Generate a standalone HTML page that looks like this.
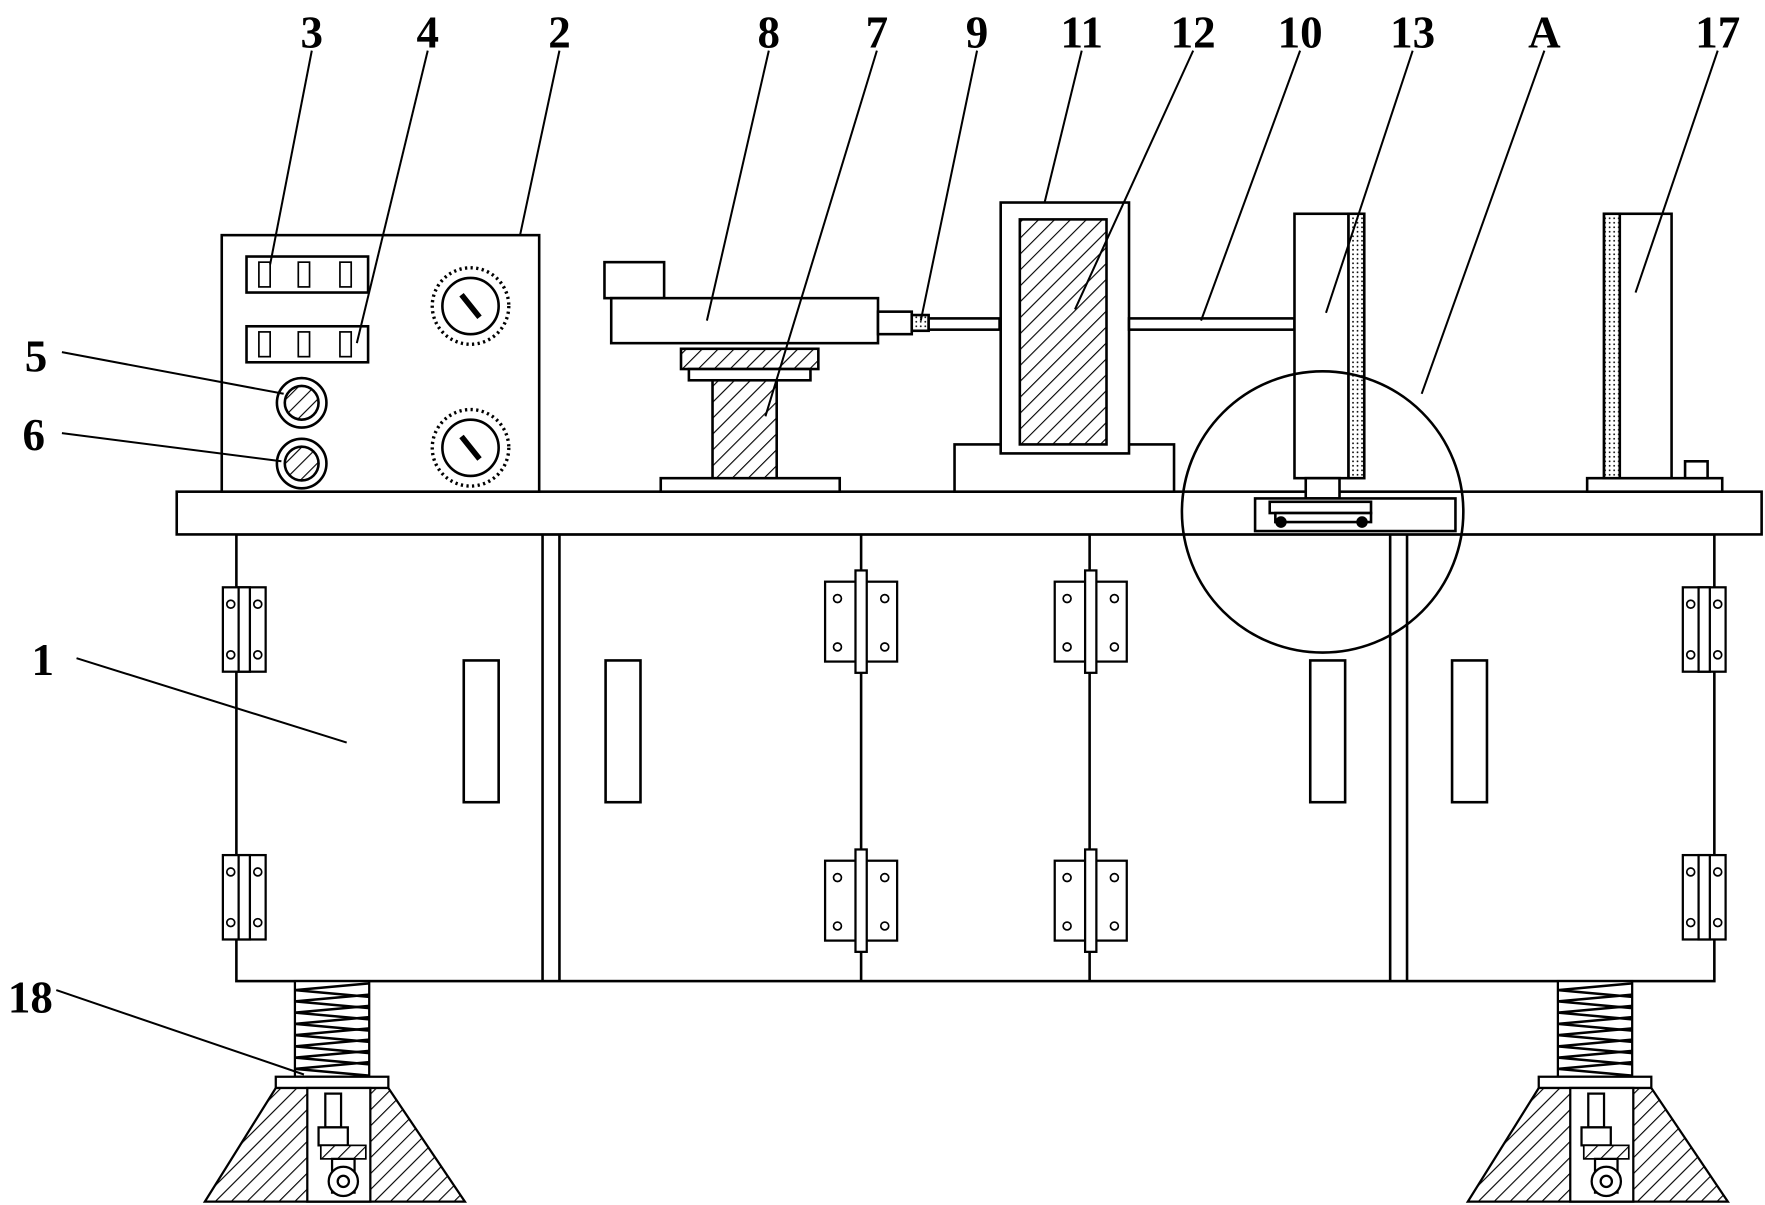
<!DOCTYPE html>
<html><head><meta charset="utf-8"><style>
html,body{margin:0;padding:0;background:#fff;}
svg{display:block;}
text{font-family:"Liberation Serif",serif;font-size:40px;fill:#000;font-weight:bold;}
</style></head><body>
<svg width="1765" height="1205" viewBox="0 0 1568 1071" preserveAspectRatio="none" xmlns="http://www.w3.org/2000/svg">
<defs>
<pattern id="h" width="10" height="10" patternUnits="userSpaceOnUse" patternTransform="rotate(45)">
<rect width="10" height="10" fill="#fff"/><line x1="0" y1="0" x2="0" y2="10" stroke="#000" stroke-width="2"/></pattern>
<pattern id="d" width="4" height="4" patternUnits="userSpaceOnUse"><rect width="4" height="4" fill="#fff"/><circle cx="2" cy="2" r="0.8" fill="#000"/></pattern>
<g id="hingeV">
<rect x="0" y="0" width="38" height="75" fill="#fff" stroke="#000" stroke-width="2"/>
<rect x="14" y="0" width="10" height="75" fill="#fff" stroke="#000" stroke-width="2"/>
<circle cx="7" cy="15" r="3.5" fill="none" stroke="#000" stroke-width="1.5"/>
<circle cx="7" cy="60" r="3.5" fill="none" stroke="#000" stroke-width="1.5"/>
<circle cx="31" cy="15" r="3.5" fill="none" stroke="#000" stroke-width="1.5"/>
<circle cx="31" cy="60" r="3.5" fill="none" stroke="#000" stroke-width="1.5"/>
</g>
<g id="hingeM">
<rect x="0" y="0" width="64" height="71" fill="#fff" stroke="#000" stroke-width="2"/>
<rect x="27" y="-10" width="10" height="91" fill="#fff" stroke="#000" stroke-width="2"/>
<circle cx="11" cy="15" r="3.5" fill="none" stroke="#000" stroke-width="1.5"/>
<circle cx="11" cy="58" r="3.5" fill="none" stroke="#000" stroke-width="1.5"/>
<circle cx="53" cy="15" r="3.5" fill="none" stroke="#000" stroke-width="1.5"/>
<circle cx="53" cy="58" r="3.5" fill="none" stroke="#000" stroke-width="1.5"/>
</g>
<g id="leg">
<rect x="17" y="0" width="66" height="85" fill="#fff" stroke="#000" stroke-width="2"/>
<path d="M17 8 L83 14 M17 18 L83 24 M17 28 L83 34 M17 38 L83 44 M17 48 L83 54 M17 58 L83 64 M17 68 L83 74 M17 78 L83 84" stroke="#000" stroke-width="2.2"/>
<path d="M17 8 L83 2 M17 18 L83 12 M17 28 L83 22 M17 38 L83 32 M17 48 L83 42 M17 58 L83 52 M17 68 L83 62 M17 78 L83 72" stroke="#000" stroke-width="2.2"/>
<rect x="0" y="85" width="100" height="10" fill="#fff" stroke="#000" stroke-width="2"/>
<polygon points="0,95 100,95 168,196 -63,196" fill="url(#h)" stroke="#000" stroke-width="2"/>
<rect x="28" y="95" width="56" height="101" fill="#fff" stroke="#000" stroke-width="2"/>
<rect x="44" y="100" width="14" height="30" fill="#fff" stroke="#000" stroke-width="2"/>
<rect x="38" y="130" width="26" height="16" fill="#fff" stroke="#000" stroke-width="2"/>
<rect x="40" y="146" width="40" height="12" fill="url(#h)" stroke="#000" stroke-width="1.5"/>
<rect x="50" y="158" width="20" height="30" fill="#fff" stroke="#000" stroke-width="2"/>
<circle cx="60" cy="178" r="13" fill="#fff" stroke="#000" stroke-width="2"/>
<circle cx="60" cy="178" r="5" fill="none" stroke="#000" stroke-width="2"/>
</g>
</defs>
<g stroke="#000" stroke-width="2.3" fill="#fff">
<rect x="210" y="475" width="1313" height="397"/>
<line x1="482" y1="475" x2="482" y2="872"/><line x1="497" y1="475" x2="497" y2="872"/>
<line x1="1235" y1="475" x2="1235" y2="872"/><line x1="1250" y1="475" x2="1250" y2="872"/>
<line x1="765" y1="475" x2="765" y2="872"/><line x1="968" y1="475" x2="968" y2="872"/>
<rect x="412" y="587" width="31" height="126"/><rect x="538" y="587" width="31" height="126"/>
<rect x="1164" y="587" width="31" height="126"/><rect x="1290" y="587" width="31" height="126"/>
<rect x="157" y="437" width="1408" height="38"/>
</g>
<use href="#hingeV" x="198" y="522"/><use href="#hingeV" x="198" y="760"/>
<use href="#hingeV" x="1495" y="522"/><use href="#hingeV" x="1495" y="760"/>
<use href="#hingeM" x="733" y="517"/><use href="#hingeM" x="733" y="765"/>
<use href="#hingeM" x="937" y="517"/><use href="#hingeM" x="937" y="765"/>
<use href="#leg" x="245" y="872"/><use href="#leg" x="1367" y="872"/>
<g stroke="#000" stroke-width="2.3" fill="#fff">
<rect x="197" y="209" width="282" height="228"/>
<rect x="219" y="228" width="108" height="32"/><rect x="219" y="290" width="108" height="32"/>
<g stroke-width="1.5">
<rect x="230" y="233" width="10" height="22"/><rect x="265" y="233" width="10" height="22"/><rect x="302" y="233" width="10" height="22"/>
<rect x="230" y="295" width="10" height="22"/><rect x="265" y="295" width="10" height="22"/><rect x="302" y="295" width="10" height="22"/>
</g>
<circle cx="268" cy="358" r="22"/><circle cx="268" cy="358" r="15" fill="url(#h)"/>
<circle cx="268" cy="412" r="22"/><circle cx="268" cy="412" r="15" fill="url(#h)"/>
<circle cx="418" cy="272" r="25"/><circle cx="418" cy="272" r="34" fill="none" stroke-dasharray="2 3" stroke-width="3"/>
<line x1="410" y1="262" x2="426" y2="282" stroke-width="5"/>
<circle cx="418" cy="398" r="25"/><circle cx="418" cy="398" r="34" fill="none" stroke-dasharray="2 3" stroke-width="3"/>
<line x1="410" y1="388" x2="426" y2="408" stroke-width="5"/>
<rect x="537" y="233" width="53" height="32"/>
<rect x="543" y="265" width="237" height="40"/>
<rect x="780" y="277" width="30" height="20"/>
<rect x="810" y="280" width="15" height="14" fill="url(#d)"/>
<rect x="825" y="283" width="63" height="10"/>
<rect x="605" y="310" width="122" height="18" fill="url(#h)"/>
<rect x="612" y="328" width="108" height="10"/>
<rect x="633" y="338" width="57" height="94" fill="url(#h)"/>
<rect x="587" y="425" width="159" height="12"/>
<rect x="848" y="395" width="195" height="42"/>
<rect x="889" y="180" width="114" height="223"/>
<rect x="906" y="195" width="77" height="200" fill="url(#h)"/>
<rect x="1003" y="283" width="147" height="10"/>
<rect x="1150" y="190" width="48" height="235"/>
<rect x="1198" y="190" width="14" height="235" fill="url(#d)"/>
<rect x="1160" y="425" width="30" height="18"/>
<rect x="1115" y="443" width="178" height="29"/>
<rect x="1128" y="446" width="90" height="10"/>
<rect x="1133" y="456" width="85" height="8"/>
<circle cx="1138" cy="464" r="4" fill="#000"/><circle cx="1210" cy="464" r="4" fill="#000"/>
<rect x="1410" y="425" width="120" height="12"/>
<rect x="1425" y="190" width="60" height="235"/>
<rect x="1425" y="190" width="14" height="235" fill="url(#d)"/>
<rect x="1497" y="410" width="20" height="15"/>
<circle cx="1175" cy="455" r="125" fill="none"/>
<g fill="none" stroke-width="1.8">
<line x1="277" y1="45" x2="240" y2="235"/><line x1="380" y1="45" x2="317" y2="305"/>
<line x1="497" y1="45" x2="462" y2="209"/><line x1="683" y1="45" x2="628" y2="285"/>
<line x1="779" y1="45" x2="680" y2="370"/><line x1="868" y1="45" x2="818" y2="285"/>
<line x1="961" y1="45" x2="928" y2="180"/><line x1="1060" y1="45" x2="955" y2="275"/>
<line x1="1155" y1="45" x2="1067" y2="285"/><line x1="1255" y1="45" x2="1178" y2="278"/>
<line x1="1372" y1="45" x2="1263" y2="350"/><line x1="1526" y1="45" x2="1453" y2="260"/>
<line x1="55" y1="313" x2="252" y2="350"/><line x1="55" y1="385" x2="250" y2="410"/>
<line x1="68" y1="585" x2="308" y2="660"/><line x1="50" y1="880" x2="270" y2="955"/>
</g>
</g>
<g text-anchor="middle">
<text x="277" y="42">3</text><text x="380" y="42">4</text><text x="497" y="42">2</text>
<text x="683" y="42">8</text><text x="779" y="42">7</text><text x="868" y="42">9</text>
<text x="961" y="42">11</text><text x="1060" y="42">12</text><text x="1155" y="42">10</text>
<text x="1255" y="42">13</text><text x="1372" y="42">A</text><text x="1526" y="42">17</text>
<text x="32" y="330">5</text><text x="30" y="400">6</text><text x="38" y="600">1</text><text x="27" y="900">18</text>
</g>
</svg>
</body></html>
